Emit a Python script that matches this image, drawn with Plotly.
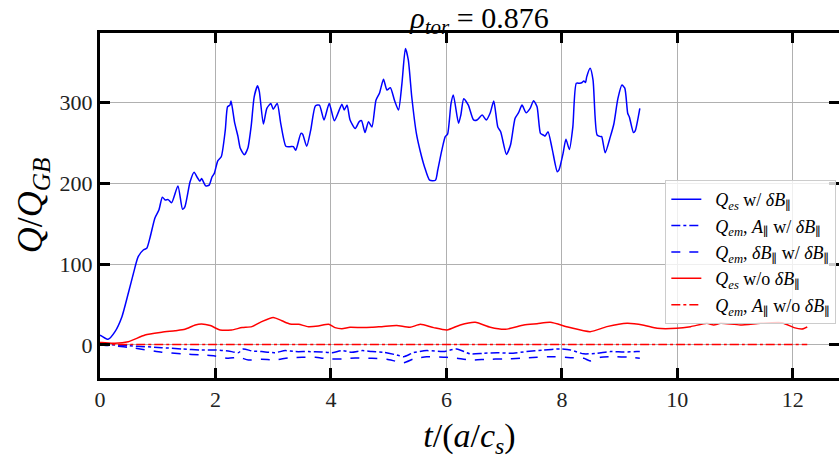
import plotly.graph_objects as go

# Electrostatic heat flux with delta B_parallel
t_es_w = [0.0, 0.03, 0.14, 0.26, 0.38, 0.49, 0.58, 0.66, 0.75, 0.81, 0.87, 0.95, 1.02, 1.08, 1.13,
          1.18, 1.24, 1.35, 1.43, 1.47, 1.56, 1.63, 1.68, 1.73, 1.76, 1.83, 1.89, 1.94, 1.98, 2.04,
          2.10, 2.17, 2.21, 2.25, 2.27, 2.33, 2.39, 2.43, 2.50, 2.56, 2.62, 2.67, 2.73, 2.76, 2.83,
          2.89, 2.96, 3.00, 3.07, 3.13, 3.22, 3.29, 3.35, 3.39, 3.48, 3.51, 3.58, 3.65, 3.73, 3.80,
          3.88, 3.97, 4.06, 4.19, 4.23, 4.28, 4.33, 4.42, 4.49, 4.53, 4.59, 4.65, 4.71, 4.78, 4.84,
          4.91, 4.97, 5.03, 5.10, 5.17, 5.23, 5.29, 5.34, 5.40, 5.48, 5.55, 5.62, 5.71, 5.81, 5.85,
          5.92, 5.98, 6.02, 6.08, 6.12, 6.21, 6.25, 6.30, 6.38, 6.47, 6.53, 6.62, 6.69, 6.76, 6.82,
          6.89, 6.94, 7.04, 7.11, 7.19, 7.25, 7.31, 7.38, 7.45, 7.51, 7.57, 7.63, 7.68, 7.71, 7.76,
          7.83, 7.92, 7.95, 8.02, 8.07, 8.13, 8.19, 8.25, 8.31, 8.35, 8.38, 8.41, 8.43, 8.49, 8.54,
          8.61, 8.67, 8.69, 8.75, 8.84, 8.90, 8.97, 9.04, 9.09, 9.14, 9.17, 9.24, 9.27, 9.33, 9.35]
q_es_w = [12, 11, 7, 16.5, 35, 64, 89, 109, 117.6, 119.7, 134, 157, 167, 183, 179.5,
          180, 176, 197, 168, 171, 202, 214, 208, 203, 206, 197, 198, 208, 212.5, 228,
          233, 266, 295, 297, 302, 276, 258, 243.5, 235.6, 243.5, 272, 307, 321, 313.6, 273.6,
          293, 299, 292, 299, 274.5, 246, 245.6, 245.5, 241, 262, 261, 246, 266, 296, 297,
          278.6, 299, 277.7, 298, 291, 297, 279, 268, 276.5, 277.7, 263, 276.5, 270, 303, 311.6,
          329, 315.7, 318.6, 303, 291, 324, 367, 353, 307, 262, 239, 220.8, 204, 204, 216.7,
          241, 258, 261, 299, 309.5, 274.5, 284.8, 305, 297, 278.6, 278.6, 284.8, 278.6, 287.6, 302,
          270, 264, 236, 247.6, 280.7, 287.6, 297, 287.6, 293, 302.5, 295, 262, 260, 258.7, 264,
          243.5, 214.6, 216.7, 237, 254.7, 242, 270, 324, 324, 325, 327, 325, 332, 342.6, 328,
          260, 258, 258, 238, 258, 273.6, 305, 321.9, 318, 287, 282, 263, 265, 284.8, 293]

# Electromagnetic flux, A_parallel part, with delta B_parallel
t_em_a_w = [0.0, 0.03, 0.49, 1.07, 1.42, 1.76, 1.99, 2.22, 2.40, 2.48, 2.63, 2.80, 3.03, 3.21, 3.38,
            3.61, 3.84, 4.02, 4.19, 4.36, 4.54, 4.71, 4.91, 5.14, 5.26, 5.43, 5.66, 5.95, 6.18, 6.41,
            6.64, 6.88, 7.11, 7.39, 7.68, 7.97, 8.15, 8.38, 8.61, 8.84, 9.07, 9.30, 9.35]
q_em_a_w = [1, 1, -1, -3.3, -5, -6.2, -6.2, -7.4, -9.5, -5, -7.4, -8.2, -9.5, -7, -8.2,
            -8.2, -8.7, -9.5, -7, -9, -7, -8.2, -9, -12.4, -14.5, -9.5, -7, -8.2, -5, -11,
            -10.3, -9.5, -10.3, -8.2, -6.2, -5, -6.2, -11, -10.3, -8.2, -8.7, -8.2, -8.0]

# Electromagnetic flux, delta B_parallel part, with delta B_parallel
t_em_b_w = [0.0, 0.03, 0.49, 1.07, 1.42, 1.76, 1.99, 2.22, 2.40, 2.57, 2.80, 3.03, 3.26, 3.50, 3.73,
            3.96, 4.19, 4.42, 4.71, 4.97, 5.26, 5.43, 5.66, 6.01, 6.18, 6.41, 6.70, 6.99, 7.28, 7.57,
            7.86, 8.15, 8.38, 8.49, 8.67, 8.95, 9.19, 9.35]
q_em_b_w = [0.5, 0, -2.9, -9, -11, -12.4, -13.6, -16.5, -15.3, -18.6, -17.7, -18.6, -16.1, -15.3, -15.3,
            -17.3, -17.3, -16.1, -16.5, -17.7, -21.9, -17.3, -14.5, -15.3, -16.5, -18.6, -17.7, -17.3, -16.5, -15.3,
            -14.5, -15.7, -16.5, -19.8, -15.3, -14.5, -15.3, -16.5]

# Electrostatic heat flux without delta B_parallel
t_es_wo = [0.0, 0.03, 0.26, 0.49, 0.78, 1.07, 1.30, 1.47, 1.65, 1.76, 1.91, 2.08, 2.28, 2.46, 2.63,
           2.80, 3.00, 3.15, 3.29, 3.44, 3.61, 3.78, 3.96, 4.07, 4.19, 4.33, 4.54, 4.71, 4.91, 5.14,
           5.37, 5.55, 5.78, 6.01, 6.24, 6.50, 6.76, 7.02, 7.34, 7.57, 7.80, 8.12, 8.49, 8.78, 9.13,
           9.42, 9.65, 9.99, 10.23, 10.51, 10.63, 10.75, 11.09, 11.44, 11.81, 12.02, 12.16, 12.25]
q_es_wo = [3, 3, 2, 4, 12.4, 15.7, 17.7, 19.4, 24.8, 26, 24, 18.6, 18.6, 21.5, 22.7,
           28.9, 34, 30, 26, 25.6, 22.7, 23.5, 25.6, 21.5, 20.2, 21.9, 21.5, 21.9, 23, 24,
           21.9, 25.6, 21.5, 18.6, 24.8, 28, 21.9, 19.4, 24.8, 26.4, 28, 21.9, 16.5, 22.7, 26.8,
           24.4, 20.6, 20.6, 22.7, 26.8, 24.8, 26.8, 24.8, 26.8, 27.6, 21.5, 19.8, 22.3]

# Electromagnetic flux, A_parallel part, without delta B_parallel
t_em_a_wo = [0.0, 2.0, 4.0, 6.0, 8.0, 10.0, 12.25]
q_em_a_wo = [0.5, 0.5, 0.5, 0.5, 0.5, 0.5, 0.5]

x_ticks = [0, 2, 4, 6, 8, 10, 12]
y_ticks = [0, 100, 200, 300]

BLUE = "#0000ff"
RED = "#ff0000"
SERIF = "Liberation Serif, DejaVu Serif, serif"
PAR = "<sub><span style=\"font-family:'DejaVu Serif';font-style:normal\">∥</span></sub>"
DB = "<i>δB</i>" + PAR

fig = go.Figure()
series = [
    (t_es_w, q_es_w, BLUE, "solid", "<i>Q</i><sub><i>es</i></sub> w/ " + DB),
    (t_em_a_w, q_em_a_w, BLUE, "dashdot", "<i>Q</i><sub><i>em</i></sub>, <i>A</i>" + PAR + " w/ " + DB),
    (t_em_b_w, q_em_b_w, BLUE, "dash", "<i>Q</i><sub><i>em</i></sub>, " + DB + " w/ " + DB),
    (t_es_wo, q_es_wo, RED, "solid", "<i>Q</i><sub><i>es</i></sub> w/o " + DB),
    (t_em_a_wo, q_em_a_wo, RED, "dashdot", "<i>Q</i><sub><i>em</i></sub>, <i>A</i>" + PAR + " w/o " + DB),
]
for t, q, c, d, name in series:
    fig.add_trace(go.Scatter(x=t, y=q, mode="lines", name="&nbsp;&nbsp;" + name,
                             line=dict(color=c, width=1.5, dash=d, shape="spline", smoothing=0.6)))

# carrier trace for the right-hand tick axis
fig.add_trace(go.Scatter(x=[None], y=[None], yaxis="y2", showlegend=False, hoverinfo="skip"))

axis_common = dict(ticks="inside", ticklen=10, tickwidth=3, tickcolor="black",
                   showgrid=True, gridcolor="#b0b0b0", gridwidth=1, zeroline=False,
                   tickfont=dict(family=SERIF, size=22, color="#222"))

fig.update_layout(
    width=839, height=459,
    margin=dict(l=100, r=0, t=33, b=81),
    plot_bgcolor="white", paper_bgcolor="white",
    title=dict(text="<i>ρ</i><sub><i>tor</i></sub> = 0.876", x=0.5715, xanchor="center",
               y=0.962, yanchor="middle", font=dict(family=SERIF, size=30, color="black")),
    xaxis=dict(range=[0, 12.80], tickvals=x_ticks, showline=True, linewidth=3, linecolor="black",
               mirror="ticks",
               title=dict(text="<i>t</i>/(<i>a</i>/<i>c</i><sub><i>s</i></sub>)",
                          font=dict(family=SERIF, size=34, color="black"), standoff=12),
               **axis_common),
    yaxis=dict(range=[-40.9, 386.3], tickvals=y_ticks, showline=True, linewidth=3, linecolor="black",
               mirror=False,
               title=dict(text="<i>Q</i>/<i>Q</i><sub><i>GB</i></sub>",
                          font=dict(family=SERIF, size=36, color="black"), standoff=6),
               **axis_common),
    yaxis2=dict(range=[-40.9, 386.3], tickvals=y_ticks, overlaying="y", side="right",
                ticks="inside", ticklen=10, tickwidth=3, tickcolor="black",
                showticklabels=False, showgrid=False, zeroline=False, showline=False),
    legend=dict(x=0.765, y=0.574, xanchor="left", yanchor="top",
                bgcolor="rgba(255,255,255,0.8)", bordercolor="#cccccc", borderwidth=1,
                font=dict(family=SERIF, size=18, color="black"), itemwidth=30,
                tracegroupgap=0),
    showlegend=True,
)

fig.write_html("out.html")
